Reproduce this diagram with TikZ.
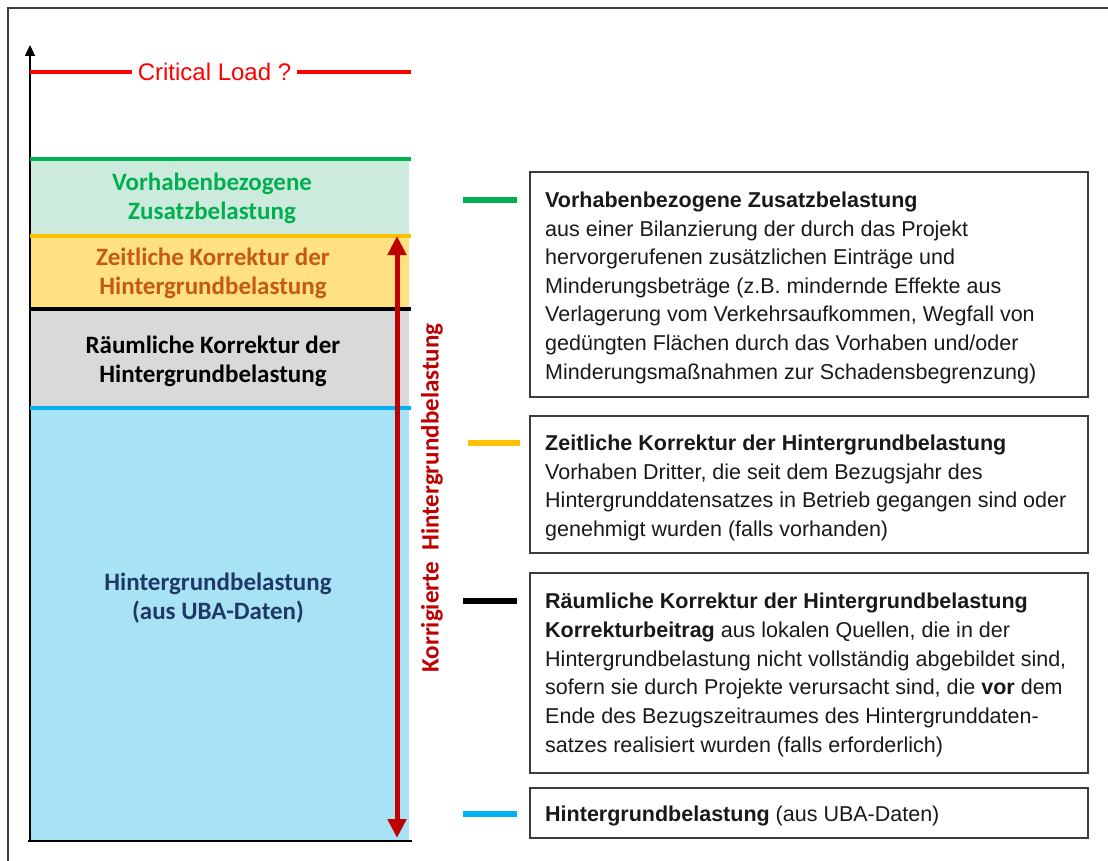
\documentclass[tikz,border=0pt]{standalone}
\usepackage{fontspec}
\setmainfont{Liberation Sans}
\newfontfamily\calfont{Carlito}
\usetikzlibrary{arrows.meta}
\definecolor{mintfill}{RGB}{205,235,221}
\definecolor{yellowfill}{RGB}{255,225,130}
\definecolor{grayfill}{RGB}{217,217,217}
\definecolor{bluefill}{RGB}{168,226,245}
\definecolor{greenline}{RGB}{0,176,80}
\definecolor{orangeline}{RGB}{255,192,0}
\definecolor{orangetext}{RGB}{197,90,17}
\definecolor{navytext}{RGB}{31,56,100}
\definecolor{blueline}{RGB}{0,176,240}
\definecolor{darkred}{RGB}{192,0,0}
\definecolor{critred}{RGB}{255,0,0}
\definecolor{framegray}{RGB}{60,60,60}
\definecolor{boxtextcol}{RGB}{25,25,25}
\begin{document}
\begin{tikzpicture}[x=1pt,y=-1pt,
  levelline/.style={line width=4pt},
  legendline/.style={line width=6pt},
  layerlabel/.style={font=\calfont\bfseries\fontsize{25}{29}\selectfont, align=center, inner sep=0pt},
  infobox/.style={draw=framegray, line width=1.3pt, inner sep=0pt, minimum width=558pt},
  boxtext/.style={anchor=base west, inner sep=0pt, text=boxtextcol, font=\fontsize{21.5}{28.6}\selectfont},
]
\useasboundingbox (0,0) rectangle (1108,861);
% outer frame (cropped)
\draw[framegray, line width=1.4pt] (8,861) -- (8,8) -- (1108,8);

% layer fills
\fill[mintfill]   (30,159) rectangle (409,236);
\fill[yellowfill] (30,236) rectangle (409,309);
\fill[grayfill]   (30,309) rectangle (409,408);
\fill[bluefill]   (30,408) rectangle (409,841);

% axes
\coordinate (axbot) at (30,841);
\coordinate (axtop) at (30,45);
\coordinate (axright) at (412,841);
\draw[line width=1.4pt, -{Triangle[width=10pt,length=11pt]}] (axbot) -- (axtop);
\draw[line width=1.4pt] (28,841) -- (axright);

% level lines
\draw[levelline, greenline]  (30,159) -- (411,159);
\draw[levelline, orangeline] (30,236) -- (411,236);
\draw[levelline, black]      (30,309) -- (411,309);
\draw[levelline, blueline]   (30,408) -- (411,408);

% critical load
\node[text=critred, font=\fontsize{24}{28}\selectfont, inner sep=6pt] (crit) at (214.5,72) {Critical Load ?};
\coordinate (critL) at (30,72);
\coordinate (critR) at (411,72);
\draw[critred, line width=4.5pt] (critL) -- (crit.west);
\draw[critred, line width=4.5pt] (crit.east) -- (critR);

% layer labels
\node[layerlabel, text=greenline]  (lab1) at (212,198) {Vorhabenbezogene\\Zusatzbelastung};
\node[layerlabel, text=orangetext] (lab2) at (213,273) {Zeitliche Korrektur der\\Hintergrundbelastung};
\node[layerlabel, text=black]      (lab3) at (213,361) {Räumliche Korrektur der\\Hintergrundbelastung};
\node[layerlabel, text=navytext]   (lab4) at (218,598) {Hintergrundbelastung\\(aus UBA-Daten)};

% corrected background arrow
\coordinate (arrtop) at (397,236);
\coordinate (arrbot) at (397,838);
\draw[darkred, line width=5pt, {Triangle[width=18pt,length=19pt]}-{Triangle[width=18pt,length=19pt]}] (arrbot) -- (arrtop);
\node[rotate=90, text=darkred, font=\calfont\bfseries\fontsize{25}{29}\selectfont, inner sep=0pt] (korr) at (432,498) {Korrigierte\hspace{11pt}Hintergrundbelastung};

% legend lines
\coordinate (g1) at (463,200); \coordinate (g2) at (517,200);
\coordinate (o1) at (468,443); \coordinate (o2) at (520,443);
\coordinate (k1) at (463,601); \coordinate (k2) at (517,601);
\coordinate (b1) at (463,814); \coordinate (b2) at (517,814);
\draw[legendline, greenline]  (g1) -- (g2);
\draw[legendline, orangeline] (o1) -- (o2);
\draw[legendline, black]      (k1) -- (k2);
\draw[legendline, blueline]   (b1) -- (b2);

% boxes
\node[infobox, minimum height=225pt] (box1) at (809,284.5) {};
\node[infobox, minimum height=137pt] (box2) at (809,484.5) {};
\node[infobox, minimum height=200pt] (box3) at (809,673) {};
\node[infobox, minimum height=50pt]  (box4) at (809,813) {};

% box texts
\foreach \t [count=\i] in {
  {\textbf{Vorhabenbezogene Zusatzbelastung}},
  {aus einer Bilanzierung der durch das Projekt},
  {hervorgerufenen zusätzlichen Einträge und},
  {Minderungsbeträge (z.B. mindernde Effekte aus},
  {Verlagerung vom Verkehrsaufkommen, Wegfall von},
  {gedüngten Flächen durch das Vorhaben und/oder},
  {Minderungsmaßnahmen zur Schadensbegrenzung)}}
  \node[boxtext] (t1-\i) at (545,{207.5+28.6*(\i-1)}) {\t};

\foreach \t [count=\i] in {
  {\textbf{Zeitliche Korrektur der Hintergrundbelastung}},
  {Vorhaben Dritter, die seit dem Bezugsjahr des},
  {Hintergrunddatensatzes in Betrieb gegangen sind oder},
  {genehmigt wurden (falls vorhanden)}}
  \node[boxtext] (t2-\i) at (545,{450.5+28.6*(\i-1)}) {\t};

\foreach \t [count=\i] in {
  {\textbf{Räumliche Korrektur der Hintergrundbelastung}},
  {\textbf{Korrekturbeitrag} aus lokalen Quellen, die in der},
  {Hintergrundbelastung nicht vollständig abgebildet sind,},
  {sofern sie durch Projekte verursacht sind, die \textbf{vor} dem},
  {Ende des Bezugszeitraumes des Hintergrunddaten-},
  {satzes realisiert wurden (falls erforderlich)}}
  \node[boxtext] (t3-\i) at (545,{608.5+28.8*(\i-1)}) {\t};

\node[boxtext] (t4-1) at (545,821.5) {\textbf{Hintergrundbelastung} (aus UBA-Daten)};
\end{tikzpicture}
\end{document}
